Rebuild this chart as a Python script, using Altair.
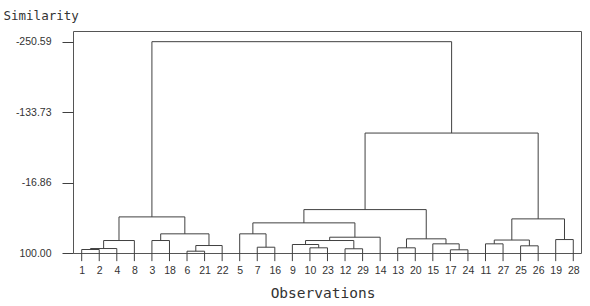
import altair as alt
import pandas as pd

# Leaf order along the x axis (observation labels)
LEAVES = ["1", "2", "4", "8", "3", "18", "6", "21", "22", "5", "7", "16", "9", "10",
          "23", "12", "29", "14", "13", "20", "15", "17", "24", "11", "27", "25",
          "26", "19", "28"]

# Merges: children (leaf label or "m<k>" = k-th merge) and similarity level
MERGE_LEFT = ["1", "m0", "m1", "3", "6", "m4", "m3", "m2", "7", "5", "10", "9", "12",
              "m11", "m13", "m9", "13", "17", "15", "m16", "m15", "11", "25", "m21",
              "19", "m23", "m20", "m7"]
MERGE_RIGHT = ["2", "4", "8", "18", "21", "22", "m5", "m6", "16", "m8", "23", "m10", "29",
               "m12", "14", "m14", "20", "24", "m17", "m18", "m19", "27", "26", "m22",
               "28", "m24", "m25", "m26"]
MERGE_SIM = [94.2, 92.6, 79.3, 79.3, 97.0, 87.6, 68.2, 40.1, 90.4, 68.2, 91.4, 85.9, 93.0,
             79.3, 73.8, 50.0, 91.4, 94.7, 84.8, 76.5, 28.0, 84.8, 88.1, 78.5,
             77.7, 43.4, -99.0, -250.59]

Y_TICKS = [-250.59, -133.73, -16.86, 100.00]
LEAF_BASE = 113.5  # leaf stems reach just below the 100 baseline

# Build segments from the tree
pos = {lab: i for i, lab in enumerate(LEAVES)}
hgt = {lab: LEAF_BASE for lab in LEAVES}
rows = []
for k, (a, b, s) in enumerate(zip(MERGE_LEFT, MERGE_RIGHT, MERGE_SIM)):
    xa, xb = pos[a], pos[b]
    rows.append(dict(x=xa, x2=xa, y=hgt[a], y2=s))
    rows.append(dict(x=xb, x2=xb, y=hgt[b], y2=s))
    rows.append(dict(x=xa, x2=xb, y=s, y2=s))
    name = f"m{k}"
    pos[name] = (xa + xb) / 2
    hgt[name] = s
seg = pd.DataFrame(rows)

leaf_js = "[" + ",".join(f"'{l}'" for l in LEAVES) + "]"

chart = alt.Chart(seg).mark_rule(color="#404040", strokeWidth=1).encode(
    x=alt.X("x:Q",
            scale=alt.Scale(domain=[-0.495, 28.44], nice=False, zero=False),
            axis=alt.Axis(values=list(range(len(LEAVES))),
                          labelExpr=f"{leaf_js}[datum.value]",
                          domain=False, ticks=False, grid=False,
                          labelPadding=12, labelFont="Liberation Sans",
                          labelFontSize=10.5, labelColor="#333333",
                          labelOverlap=False, labelFlush=False,
                          title="Observations", titleFont="DejaVu Sans Mono",
                          titleFontSize=14.5, titleFontWeight="normal",
                          titleColor="#333333", titleAlign="center",
                          titleBaseline="alphabetic", titleX=249.5, titleY=44)),
    x2="x2:Q",
    y=alt.Y("y:Q",
            scale=alt.Scale(domain=[-268.3, 100], reverse=True, nice=False, zero=False),
            axis=alt.Axis(values=Y_TICKS,
                          labelExpr="replace(format(datum.value, '.2f'), '\u2212', '-')",
                          domain=False, grid=False, ticks=True, tickSize=11,
                          tickColor="#404040", labelPadding=11,
                          labelFont="Liberation Sans", labelFontSize=10.5,
                          labelColor="#333333", labelOverlap=False,
                          labelFlush=False,
                          title="Similarity", titleFont="DejaVu Sans Mono",
                          titleFontSize=12.5, titleFontWeight="normal",
                          titleColor="#333333", titleAngle=0, titleAlign="left",
                          titleBaseline="alphabetic", titleX=-70, titleY=-11.5)),
    y2="y2:Q",
).properties(
    width=508, height=222,
    padding={"left": 73, "top": 31, "right": 9, "bottom": 53},
    autosize="none",
).configure_view(stroke="#555555", strokeWidth=1)

chart.save("out.html", embed_options={"renderer": "svg", "actions": False})
